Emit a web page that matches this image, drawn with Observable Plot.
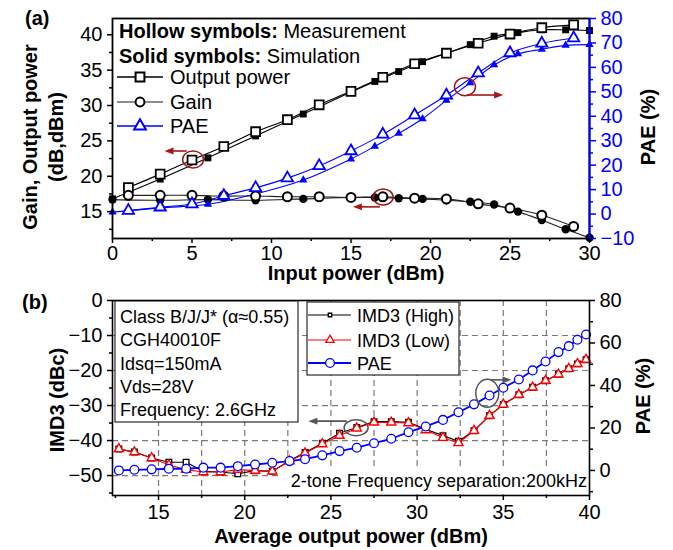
<!DOCTYPE html>
<html><head><meta charset="utf-8">
<script src="https://cdn.jsdelivr.net/npm/d3@7"></script>
<script src="https://cdn.jsdelivr.net/npm/@observablehq/plot@0.6"></script>
<style>
body{margin:0;background:#fff;}
#chart{position:relative;width:673px;height:550px;font-family:Arial,"Liberation Sans",sans-serif;}
#chart svg{display:block;}
</style></head><body><div id="chart"></div>
<script>
// ---------- Panel (a) data ----------
const aMeasX    = [1,3,5,7,9,11,13,15,17,19,21,23,25,27,29];
const aMeasOut  = [18.4,20.3,22.3,24.2,26.3,28.0,30.1,32.0,34.0,35.9,37.4,38.8,40.1,41.0,41.4];
const aMeasGain = [17.3,17.3,17.3,17.2,17.2,17.1,17.1,17.0,17.1,16.9,16.8,16.1,15.5,14.5,12.9];
const aMeasPAE  = [1.4,2.8,4.1,7.5,10.7,14.7,19.7,25.8,32.6,40.5,48.6,57.7,65.9,69.8,72.0];
const aSimX     = [0,3,6,9,12,15,16.5,18,19.5,21,22.5,24,25.5,27,28.5,30];
const aSimOut   = [16.8,19.6,22.6,25.7,28.8,31.9,33.4,34.8,36.2,37.4,38.6,39.8,40.3,40.7,40.7,40.6];
const aSimGain  = [16.7,16.6,16.7,16.6,16.8,17.0,17.0,16.9,16.8,16.6,16.4,16.0,15.0,13.8,12.5,11.3];
const aSimPAE   = [0.8,2.5,4.0,8.2,13.9,22.5,27.7,33.0,39.0,46.5,53.7,61.0,65.5,67.4,69.0,69.3];
const aXTicks = [0,5,10,15,20,25,30];
const aXMinor = [2.5,7.5,12.5,17.5,22.5,27.5];
const aLTicks = [15,20,25,30,35,40];
const aLMinor = [12.5,17.5,22.5,27.5,32.5,37.5];
const aRTicks = [-10,0,10,20,30,40,50,60,70,80];
const aRMinor = [-5,5,15,25,35,45,55,65,75];
// annotation marks (data units; side L = left axis, R = PAE axis)
const aCircles = [{x:5.1,y:22.3,side:"L",rx:10.5,ry:8.5},{x:17.05,y:17.0,side:"L",rx:10,ry:8},{x:22.2,y:51.9,side:"R",rx:10.5,ry:9}];
const aArrows  = [{x1:4.7,y1:23.5,x2:3.3,y2:23.5,side:"L"},{x1:16.85,y1:15.6,x2:15.15,y2:15.6,side:"L"},{x1:22.3,y1:48.5,x2:24.6,y2:48.5,side:"R"}];

// ---------- Panel (b) data ----------
const bX    = [12.7,13.6,14.6,15.6,16.6,17.6,18.6,19.6,20.6,21.6,22.6,23.5,24.5,25.5,26.5,27.5,28.5,29.5,30.5,31.5,32.4,33.3,34.2,35.0,35.9,36.7,37.45,38.2,38.8,39.3,39.8];
const bHigh = [-42.4,-43.3,-45,-46.2,-46.2,-48.8,-49,-49.5,-48.6,-48.8,-45.7,-43.4,-40.8,-37.9,-36.3,-34.6,-34.6,-34.8,-36.8,-38.6,-40.2,-37.2,-32.9,-29.7,-26.9,-24.8,-22.9,-21.1,-19.5,-18.1,-16.9];
const bLow  = [-42.4,-43.3,-45,-47,-48.3,-49,-49,-48.3,-48.6,-48.8,-45.9,-43.6,-41,-38.6,-36.5,-34.8,-34.8,-35.0,-37,-39.2,-40.7,-37.2,-32.9,-29.7,-26.9,-24.8,-22.9,-21.1,-19.5,-18.1,-16.9];
const bPAE  = [0,0.3,0.5,0.8,0.8,1.3,1.3,2.0,2.8,3.6,4.4,5.3,7.1,9.1,10.7,12.8,14.9,18.0,20.7,23.8,27.4,31.1,35.3,38.9,42.8,47.1,51.3,55.7,58.5,61.5,64.0];
const bXTicks = [15,20,25,30,35,40];
const bXMinor = [12.5,17.5,22.5,27.5,32.5,37.5];
const bXGrid  = [15,17.5,20,22.5,25,27.5,30,32.5,35,37.5];
const bLTicks = [0,-10,-20,-30,-40,-50];
const bLMinor = [-5,-15,-25,-35,-45,-55];
const bYGrid  = [-10,-20,-30,-40,-50];
const bRTicks = [0,20,40,60,80];
const bRMinor = [-10,10,30,50,70];
const bInfo = ["Class B/J/J* (\u03b1\u22480.55)","CGH40010F","Idsq=150mA","Vds=28V","Frequency: 2.6GHz"];
const bCircles = [{x:26.49,y:-36.5,side:"L",rx:12,ry:8},{x:34.1,y:36.1,side:"R",rx:11.5,ry:14}];
const bArrows  = [{x1:25.95,y1:-34.6,x2:23.72,y2:-34.6,side:"L"},{x1:34.26,y1:42.4,x2:35.5,y2:42.4,side:"R"}];

// ---------- helpers ----------
const F = 'Arial, "Liberation Sans", sans-serif';
const BLUE = "#0000ff", RED = "#ff0000", DRED = "#a31616", GREY = "#555";
const rows = (xs, ys, f = v => v) => xs.map((x, i) => ({x, y: f(ys[i])}));
const fmt = v => String(Math.round(v)).replace("-", "\u2212");
const mapper = (L, R) => ({
  to: v => L[0] + (v - R[0]) * (L[1] - L[0]) / (R[1] - R[0]),
  from: y => R[0] + (y - L[0]) * (R[1] - R[0]) / (L[1] - L[0])
});
function drawArrow(g, x1, y1, x2, y2, color, head = 9, w = 1.6) {
  const a = Math.atan2(y2 - y1, x2 - x1), c = Math.cos(a), s = Math.sin(a), hw = head * 0.38;
  g.append("line").attr("x1", x1).attr("y1", y1).attr("x2", x2 - c * head * 0.6).attr("y2", y2 - s * head * 0.6)
    .attr("stroke", color).attr("stroke-width", w);
  const p = [[x2, y2], [x2 - head * c + hw * s, y2 - head * s - hw * c], [x2 - head * c - hw * s, y2 - head * s + hw * c]];
  g.append("path").attr("d", "M" + p.map(q => q.join(",")).join("L") + "Z").attr("fill", color);
}
function sym(g, type, x, y, size, fill, stroke, sw) {
  const t = {square: d3.symbolSquare, circle: d3.symbolCircle, triangle: d3.symbolTriangle}[type];
  g.append("path").attr("d", d3.symbol(t, size)()).attr("transform", `translate(${x},${y})`)
    .attr("fill", fill).attr("stroke", stroke).attr("stroke-width", sw);
}
function vtext(g, x, y, txt, size) {
  g.append("text").attr("transform", `translate(${x},${y}) rotate(-90)`).attr("text-anchor", "middle")
    .attr("font-weight", "bold").attr("font-size", size).attr("fill", "black").text(txt);
}
function ctext(g, x, y, txt, size) {
  g.append("text").attr("x", x).attr("y", y).attr("text-anchor", "middle").attr("font-size", size)
    .attr("font-weight", "bold").text(txt);
}
const tickOpts = (extra) => Object.assign({label: null, fontSize: 20}, extra);
const minor = () => "";

const chart = document.getElementById("chart");

// ================= PANEL (a) =================
const A = mapper([11.2, 42.3], [-10, 80]);
const decoA = (index, scales) => {
  const X = scales.x, Y = scales.y;
  const yy = (v, side) => Y(side === "R" ? A.to(v) : v);
  const g = d3.create("svg:g").attr("font-family", F).attr("text-anchor", "start");
  for (const c of aCircles)
    g.append("ellipse").attr("cx", X(c.x)).attr("cy", yy(c.y, c.side)).attr("rx", c.rx).attr("ry", c.ry)
      .attr("fill", "none").attr("stroke", DRED).attr("stroke-width", 1.5);
  for (const a of aArrows) drawArrow(g, X(a.x1), yy(a.y1, a.side), X(a.x2), yy(a.y2, a.side), DRED);
  // legend
  let t = g.append("text").attr("x", 119).attr("y", 38).attr("font-size", 20);
  t.append("tspan").attr("font-weight", "bold").text("Hollow symbols:");
  t.append("tspan").text(" Measurement");
  t = g.append("text").attr("x", 119).attr("y", 63).attr("font-size", 20);
  t.append("tspan").attr("font-weight", "bold").text("Solid symbols:");
  t.append("tspan").text(" Simulation");
  const items = [["Output power", "black", "square", 78, 77], ["Gain", "#666", "circle", 62, 102], ["PAE", BLUE, "triangle", 60, 126]];
  for (const [lab, col, s, sz, y] of items) {
    g.append("line").attr("x1", 117).attr("x2", 163).attr("y1", y).attr("y2", y).attr("stroke", col).attr("stroke-width", 1.3);
    sym(g, s, 140, y, sz, "white", s === "triangle" ? BLUE : "black", 2);
    g.append("text").attr("x", 170).attr("y", y + 7).attr("font-size", 20).text(lab);
  }
  // titles
  g.append("text").attr("x", 25).attr("y", 25).attr("font-size", 20).attr("font-weight", "bold").text("(a)");
  vtext(g, 37, 137, "Gain, Output power", 20);
  vtext(g, 63, 137, "(dB,dBm)", 20);
  vtext(g, 655, 127, "PAE (%)", 20);
  ctext(g, 356, 280, "Input power (dBm)", 20);
  return g.node();
};
const aOutM = rows(aMeasX, aMeasOut), aOutS = rows(aSimX, aSimOut);
const aGainM = rows(aMeasX, aMeasGain), aGainS = rows(aSimX, aSimGain);
const aPaeM = rows(aMeasX, aMeasPAE, A.to), aPaeS = rows(aSimX, aSimPAE, A.to);
const lineO = (d, stroke) => Plot.line(d, {x: "x", y: "y", stroke, strokeWidth: 1.1, curve: "catmull-rom"});
const plotA = Plot.plot({
  width: 673, height: 285,
  marginLeft: 112, marginRight: 84, marginTop: 18, marginBottom: 47,
  style: {fontFamily: F, fontSize: "20px", color: "black", background: "white", overflow: "visible"},
  x: {domain: [0, 30]},
  y: {domain: [11.2, 42.3]},
  marks: [
    lineO(aOutS, "black"), lineO(aOutM, "black"),
    lineO(aGainS, "#222"), lineO(aGainM, "#222"),
    lineO(aPaeS, BLUE), lineO(aPaeM, BLUE),
    Plot.dot(aOutS, {x: "x", y: "y", symbol: "square", r: 3.9, fill: "black"}),
    Plot.dot(aGainS, {x: "x", y: "y", symbol: "circle", r: 4.2, fill: "black"}),
    Plot.dot(aPaeS, {x: "x", y: "y", symbol: "triangle", r: 3.1, fill: BLUE}),
    Plot.dot(aOutM, {x: "x", y: "y", symbol: "square", r: 5, fill: "white", stroke: "black", strokeWidth: 1.8}),
    Plot.dot(aGainM, {x: "x", y: "y", symbol: "circle", r: 4.5, fill: "white", stroke: "black", strokeWidth: 2}),
    Plot.dot(aPaeM, {x: "x", y: "y", symbol: "triangle", r: 4.2, fill: "white", stroke: BLUE, strokeWidth: 1.8}),
    Plot.frame({stroke: "black", strokeWidth: 1.8}),
    Plot.ruleX([30], {stroke: BLUE, strokeWidth: 2}),
    Plot.axisX(aXTicks, tickOpts({tickSize: 5, tickPadding: 2, strokeWidth: 1.5})),
    Plot.axisX(aXMinor, tickOpts({tickSize: 3, tickFormat: minor, strokeWidth: 1.5})),
    Plot.axisY(aLTicks, tickOpts({tickSize: 5, tickPadding: 5, strokeWidth: 1.5})),
    Plot.axisY(aLMinor, tickOpts({tickSize: 3, tickFormat: minor, strokeWidth: 1.5})),
    Plot.axisY(aRTicks.map(A.to), tickOpts({anchor: "right", tickSize: 6, tickPadding: 5, color: BLUE, strokeWidth: 1.5, tickFormat: d => fmt(A.from(d))})),
    Plot.axisY(aRMinor.map(A.to), tickOpts({anchor: "right", tickSize: 3, color: BLUE, strokeWidth: 1.5, tickFormat: minor})),
    decoA
  ]
});
chart.appendChild(plotA);

// ================= PANEL (b) =================
const B = mapper([-55.7, 0], [-11.8, 80]);
const decoBack = () => {
  const g = d3.create("svg:g");
  // white background behind the separation note
  g.append("rect").attr("x", 279).attr("y", 182).attr("width", 309).attr("height", 27).attr("fill", "white");
  return g.node();
};
const decoB = (index, scales) => {
  const X = scales.x, Y = scales.y;
  const yy = (v, side) => Y(side === "R" ? B.to(v) : v);
  const g = d3.create("svg:g").attr("font-family", F).attr("text-anchor", "start");
  for (const c of bCircles)
    g.append("ellipse").attr("cx", X(c.x)).attr("cy", yy(c.y, c.side)).attr("rx", c.rx).attr("ry", c.ry)
      .attr("fill", "none").attr("stroke", GREY).attr("stroke-width", 1.5);
  for (const a of bArrows) drawArrow(g, X(a.x1), yy(a.y1, a.side), X(a.x2), yy(a.y2, a.side), GREY);
  // info box
  g.append("rect").attr("x", 115).attr("y", 16).attr("width", 183).attr("height", 121)
    .attr("fill", "white").attr("stroke", "black").attr("stroke-width", 1);
  bInfo.forEach((s, i) => g.append("text").attr("x", 120).attr("y", 38 + i * 23.3).attr("font-size", 18).text(s));
  // legend box
  g.append("rect").attr("x", 307).attr("y", 17).attr("width", 152).attr("height", 73)
    .attr("fill", "white").attr("stroke", "black").attr("stroke-width", 1);
  const items = [["IMD3 (High)", "black", "square", 12, 30], ["IMD3 (Low)", RED, "triangle", 30, 55], ["PAE", BLUE, "circle", 60, 78]];
  for (const [lab, col, s, sz, y] of items) {
    g.append("line").attr("x1", 308).attr("x2", 351).attr("y1", y).attr("y2", y).attr("stroke", col).attr("stroke-width", s === "circle" ? 1.8 : 1.1);
    sym(g, s, 330, y, sz, "white", col, 1.3);
    g.append("text").attr("x", 357).attr("y", y + 6.5).attr("font-size", 18).text(lab);
  }
  g.append("text").attr("x", 587).attr("y", 202).attr("text-anchor", "end").attr("font-size", 18)
    .text("2-tone Frequency separation:200kHz");
  // titles
  g.append("text").attr("x", 22).attr("y", 24).attr("font-size", 20).attr("font-weight", "bold").text("(b)");
  vtext(g, 64, 115, "IMD3 (dBc)", 20);
  vtext(g, 650, 111, "PAE (%)", 20);
  ctext(g, 351, 258, "Average output power (dBm)", 20);
  return g.node();
};
const bH = rows(bX, bHigh), bLo = rows(bX, bLow), bP = rows(bX, bPAE, B.to);
const plotB = Plot.plot({
  width: 673, height: 265,
  marginLeft: 112, marginRight: 84, marginTop: 15, marginBottom: 55,
  style: {fontFamily: F, fontSize: "20px", color: "black", background: "white", overflow: "visible"},
  x: {domain: [12.33, 40]},
  y: {domain: [-55.7, 0]},
  marks: [
    Plot.gridX(bXGrid, {stroke: "#7a7a7a", strokeOpacity: 1, strokeWidth: 1.2, strokeDasharray: "6,4"}),
    Plot.gridY(bYGrid, {stroke: "#7a7a7a", strokeOpacity: 1, strokeWidth: 1.2, strokeDasharray: "6,4"}),
    decoBack,
    Plot.line(bH, {x: "x", y: "y", stroke: "black", strokeWidth: 1.1}),
    Plot.dot(bH, {x: "x", y: "y", symbol: "square", r: 3.2, fill: "white", stroke: "black", strokeWidth: 1.3}),
    Plot.line(bLo, {x: "x", y: "y", stroke: RED, strokeWidth: 1.1}),
    Plot.dot(bLo, {x: "x", y: "y", symbol: "triangle", r: 3.4, fill: "white", stroke: RED, strokeWidth: 1.4}),
    Plot.line(bP, {x: "x", y: "y", stroke: BLUE, strokeWidth: 1.8}),
    Plot.dot(bP, {x: "x", y: "y", symbol: "circle", r: 4.4, fill: "white", stroke: BLUE, strokeWidth: 1.3}),
    Plot.frame({stroke: "black", strokeWidth: 1.6}),
    Plot.axisX(bXTicks, tickOpts({tickSize: 5, tickPadding: 4, strokeWidth: 1.5})),
    Plot.axisX(bXMinor, tickOpts({tickSize: 3, tickFormat: minor, strokeWidth: 1.5})),
    Plot.axisY(bLTicks, tickOpts({tickSize: 5, tickPadding: 5, strokeWidth: 1.5, tickFormat: fmt})),
    Plot.axisY(bLMinor, tickOpts({tickSize: 3, tickFormat: minor, strokeWidth: 1.5})),
    Plot.axisY(bRTicks.map(B.to), tickOpts({anchor: "right", tickSize: 5, tickPadding: 5, strokeWidth: 1.5, tickFormat: d => fmt(B.from(d))})),
    Plot.axisY(bRMinor.map(B.to), tickOpts({anchor: "right", tickSize: 3, strokeWidth: 1.5, tickFormat: minor})),
    decoB
  ]
});
chart.appendChild(plotB);
</script></body></html>
